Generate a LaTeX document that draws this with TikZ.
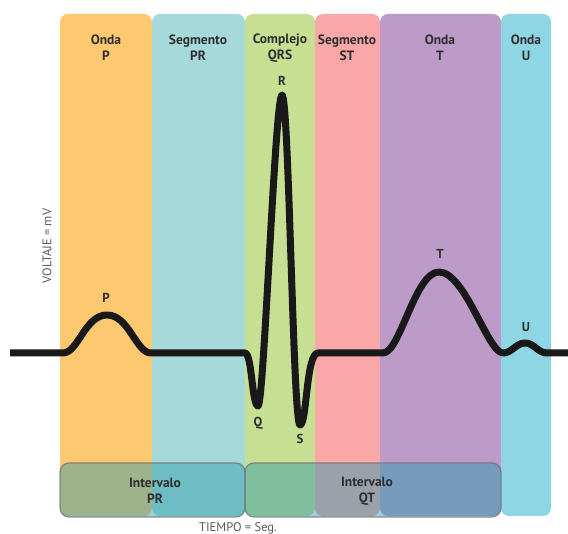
\documentclass[tikz,border=0pt]{standalone}
\usepackage{fontspec}
\setmainfont{PT Sans}
\definecolor{cP}{HTML}{FDC970}
\definecolor{cPR}{HTML}{A6DADA}
\definecolor{cQRS}{HTML}{C7DF92}
\definecolor{cST}{HTML}{F9A7A7}
\definecolor{cT}{HTML}{BC9BC8}
\definecolor{cU}{HTML}{8ED6E3}
\definecolor{ovl}{HTML}{2C9BAC}
\definecolor{txt}{HTML}{2E2E2E}
\begin{document}
\begin{tikzpicture}[x=1pt,y=-1pt,
  band/.style={rounded corners=8pt},
  head/.style={align=center,font=\fontsize{13.5}{16}\selectfont\bfseries,text=txt,inner sep=0pt},
  wlabel/.style={font=\fontsize{13}{15}\selectfont\bfseries,text=txt,inner sep=0pt},
  ivbox/.style={rounded corners=9pt,fill=ovl,fill opacity=0.46,draw=black!55,draw opacity=0.8,line width=1.2pt},
  ivtext/.style={align=center,font=\fontsize{13.5}{16}\selectfont\bfseries,text=txt,inner sep=0pt},
  axis/.style={font=\fontsize{12.5}{14}\selectfont,text=black!65,inner sep=0pt},
  ecg/.style={line width=7pt,black!90,line join=round,line cap=butt}]
\useasboundingbox (0,0) rectangle (568,534);
% bands
\fill[cP,band] (60,14) rectangle (152,516);
\fill[cPR,band] (152,14) rectangle (245,516);
\fill[cQRS,band] (245,14) rectangle (315,516);
\fill[cST,band] (315,14) rectangle (380,516);
\fill[cT,band] (380,14) rectangle (501,516);
\fill[cU,band] (501,14) rectangle (551,516);
% headings
\node[head] (hP) at (106,48) {Onda\\P};
\node[head] (hPR) at (198,48) {Segmento\\PR};
\node[head] (hQRS) at (280,48) {Complejo\\QRS};
\node[head] (hST) at (347,48) {Segmento\\ST};
\node[head] (hT) at (440,48) {Onda\\T};
\node[head] (hU) at (526,48) {Onda\\U};
% interval boxes
\draw[ivbox] (60,463) rectangle (245,517);
\draw[ivbox] (245,463) rectangle (501,517);
\node[ivtext] (iPR) at (155,491) {Intervalo\\PR};
\node[ivtext] (iQT) at (367,491) {Intervalo\\QT};
% ECG trace
\coordinate (s0) at (10,353);
\coordinate (pA) at (63,353);
\coordinate (pPk) at (107,315);
\coordinate (pB) at (151,353);
\coordinate (qA) at (245,353);
\coordinate (qTip) at (258,406);
\coordinate (rTip) at (282,95);
\coordinate (sTip) at (300,425);
\coordinate (stA) at (318,353);
\coordinate (tA) at (383,353);
\coordinate (tPk) at (439,272);
\coordinate (tB) at (503,353);
\coordinate (uPk) at (525,343);
\coordinate (uB) at (547,353);
\coordinate (e0) at (568,353);
\draw[ecg] (s0) -- (pA)
  .. controls (78,353) and (85,315) .. (pPk)
  .. controls (129,315) and (136,353) .. (pB)
  -- (qA)
  .. controls (252,353) and (252,406) .. (qTip)
  .. controls (264,406) and (275,95) .. (rTip)
  .. controls (289,95) and (293,425) .. (sTip)
  .. controls (307,425) and (306,353) .. (stA)
  -- (tA)
  .. controls (400,353) and (415,272) .. (tPk)
  .. controls (465,272) and (488,353) .. (tB)
  .. controls (512,353) and (516,343) .. (uPk)
  .. controls (534,343) and (538,353) .. (uB)
  -- (e0);
% wave labels
\node[wlabel] (lP) at (106,298) {P};
\node[wlabel] (lR) at (282,81) {R};
\node[wlabel] (lQ) at (258,423) {Q};
\node[wlabel] (lS) at (300,439) {S};
\node[wlabel] (lT) at (440,254) {T};
\node[wlabel] (lU) at (526,327) {U};
% axes
\node[axis,rotate=90] (vy) at (47,246) {VOLTAJE = mV};
\node[axis] (vx) at (238,528) {TIEMPO = Seg.};
\end{tikzpicture}
\end{document}
